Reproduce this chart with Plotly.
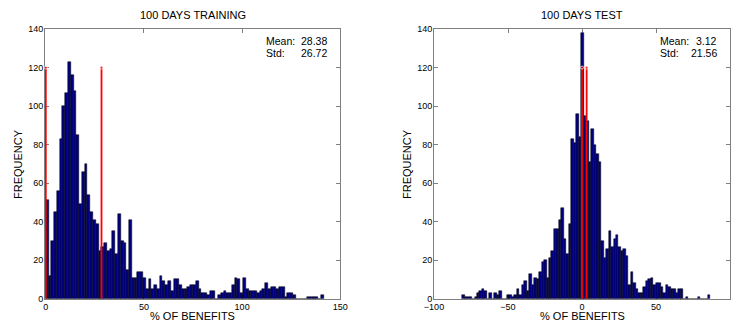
import plotly.graph_objects as go
import numpy as np

# ---------------- data ----------------
train_bin_start = 0.0
train_bin_width = 1.415
train_counts = [51, 12, 30, 45, 56, 83, 100, 107, 123, 116,
                108, 85, 49, 66, 70, 54, 45, 41, 39, 25,
                27, 29, 25, 26, 35, 23, 44, 30, 29, 15,
                41, 11, 11, 14, 14, 11, 5, 10, 5, 7,
                5, 12, 9, 7, 9, 4, 10, 10, 7, 5,
                5, 6, 7, 7, 9, 5, 3, 3, 2, 4,
                4, 0, 2, 3, 4, 3, 3, 7, 11, 10,
                3, 11, 5, 4, 4, 4, 3, 4, 5, 8,
                5, 6, 6, 5, 6, 6, 1, 3, 3, 2,
                0, 0, 0, 0, 1, 1, 1, 1, 0, 2]
train_lines = [0.0, 28.38]
train_mean, train_std = 28.38, 26.72

test_bin_start = -81.0
test_bin_width = 1.677
test_counts = [2, 1, 1, 1, 0, 1, 3, 4, 5, 4,
               0, 3, 0, 3, 2, 4, 0, 0, 2, 2,
               1, 2, 5, 2, 7, 9, 4, 13, 7, 11,
               10, 14, 19, 20, 11, 21, 25, 36, 36, 41,
               47, 31, 23, 39, 83, 81, 96, 84, 138, 95,
               92, 71, 88, 80, 75, 71, 30, 21, 26, 35,
               27, 31, 33, 27, 25, 26, 22, 7, 14, 8,
               5, 3, 3, 6, 9, 10, 11, 7, 8, 8,
               6, 3, 7, 6, 5, 5, 3, 5, 5, 0,
               1, 0, 0, 0, 0, 1, 0, 0, 0, 2]
test_lines = [0.0, 3.12]
test_mean, test_std = 3.12, 21.56

line_height = 120
titles = ["100 DAYS TRAINING", "100 DAYS TEST"]
xlabel = "% OF BENEFITS"
ylabel = "FREQUENCY"
train_xticks = [0, 50, 100, 150]
test_xticks = [-100, -50, 0, 50, 100]
yticks = [0, 20, 40, 60, 80, 100, 120, 140]

# ---------------- figure ----------------
W, H = 732, 325
FONT = "Liberation Sans, Arial, sans-serif"
BAR = "#000080"
AX = "#808080"

fig = go.Figure()

def add_hist(start, width, counts, xa, ya):
    centers = start + width * (np.arange(len(counts)) + 0.5)
    fig.add_trace(go.Bar(x=centers, y=counts, width=width,
                         marker=dict(color=BAR, line=dict(color="#000000", width=0.5)),
                         xaxis=xa, yaxis=ya, showlegend=False))

def add_lines(xs, xa, ya):
    for xv in xs:
        fig.add_trace(go.Scatter(x=[xv, xv], y=[0, line_height], mode="lines+markers",
                                 line=dict(color="#ff0000", width=1.8),
                                 marker=dict(size=[0, 3], color="#ff0000", symbol="circle"),
                                 xaxis=xa, yaxis=ya, showlegend=False, cliponaxis=False))

add_hist(train_bin_start, train_bin_width, train_counts, "x", "y")
add_lines(train_lines, "x", "y")
add_hist(test_bin_start, test_bin_width, test_counts, "x2", "y2")
add_lines(test_lines, "x2", "y2")

L1, R1 = 45 / W, 340.3 / W
L2, R2 = 434 / W, 730 / W
B, T = 1 - 298.7 / H, 1 - 29 / H

axis_common = dict(showline=True, linecolor=AX, linewidth=1, mirror="allticks",
                   ticks="inside", ticklen=4, tickcolor=AX, showgrid=False, zeroline=False,
                   automargin=False, layer="below traces", ticklabelstandoff=-1,
                   tickfont=dict(family=FONT, size=9, color="#000000"))

fig.update_layout(
    width=W, height=H, margin=dict(l=0, r=0, t=0, b=0, autoexpand=False),
    plot_bgcolor="white", paper_bgcolor="white", bargap=0,
    xaxis=dict(domain=[L1, R1], range=[-0.4, 150], tickvals=train_xticks, anchor="y", **axis_common),
    yaxis=dict(domain=[B, T], range=[0, 140], tickvals=yticks, anchor="x", **axis_common),
    xaxis2=dict(domain=[L2, R2], range=[-100, 100], tickvals=test_xticks, anchor="y2", **axis_common),
    yaxis2=dict(domain=[B, T], range=[0, 140], tickvals=yticks, anchor="x2", **axis_common),
)

def px_x(p):
    return p / W

def px_y(p):
    return 1 - p / H

ann = []
for (l, r), title, mean, std in [((45, 340.3), titles[0], train_mean, train_std),
                                 ((434, 730), titles[1], test_mean, test_std)]:
    cx = (l + r) / 2
    ann.append(dict(x=px_x(cx), y=px_y(15), text=title, showarrow=False,
                    xref="paper", yref="paper", xanchor="center", yanchor="middle",
                    font=dict(family=FONT, size=11, color="#000000")))
    ann.append(dict(x=px_x(cx), y=px_y(315.5), text=xlabel, showarrow=False,
                    xref="paper", yref="paper", xanchor="center", yanchor="middle",
                    font=dict(family=FONT, size=11, color="#000000")))
    ann.append(dict(x=px_x(l - 27), y=px_y(164), text=ylabel, showarrow=False, textangle=-90,
                    xref="paper", yref="paper", xanchor="center", yanchor="middle",
                    font=dict(family=FONT, size=11, color="#000000")))
    tl = r - 76 if title == titles[0] else r - 72
    tr = r - 11
    for yy, lab, val in [(41, "Mean:", mean), (53, "Std:", std)]:
        ann.append(dict(x=px_x(tl), y=px_y(yy), text=lab, showarrow=False,
                        xref="paper", yref="paper", xanchor="left", yanchor="middle",
                        font=dict(family=FONT, size=10.5, color="#000000")))
        ann.append(dict(x=px_x(tr), y=px_y(yy), text=f"{val:.2f}", showarrow=False,
                        xref="paper", yref="paper", xanchor="right", yanchor="middle",
                        font=dict(family=FONT, size=10.5, color="#000000")))
fig.update_layout(annotations=ann)

fig.write_html("out.html")
